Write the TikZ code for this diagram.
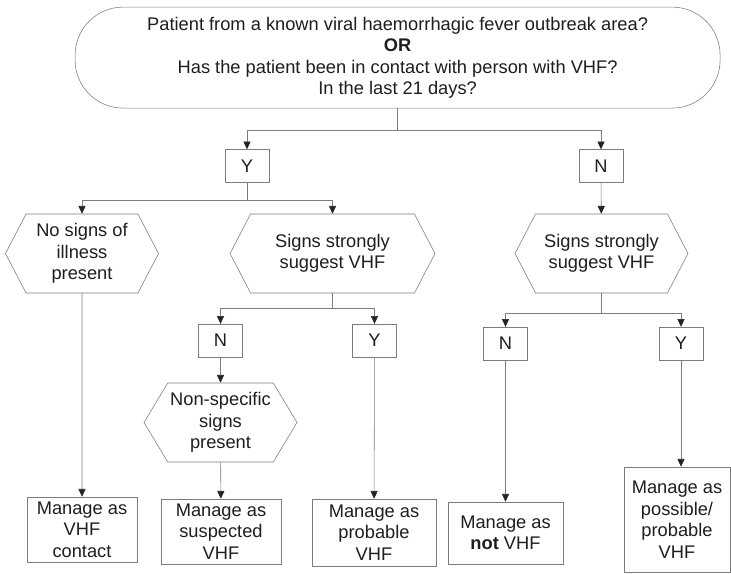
\documentclass[tikz,border=0pt]{standalone}
\usepackage{fontspec}
\setmainfont{Liberation Sans}
\usetikzlibrary{shapes,shapes.symbols,arrows.meta,positioning,calc}
\definecolor{linecolor}{RGB}{125,125,125}
\definecolor{tipcolor}{RGB}{35,35,35}
\definecolor{textcolor}{RGB}{30,30,30}
\newcommand{\flowfont}{\fontsize{13}{15.3}\selectfont}

\begin{document}
\begin{tikzpicture}[
        box/.style={rectangle, draw=linecolor, align=center, font=\flowfont, text=textcolor, inner sep=1pt},
        answer/.style={rectangle, draw=linecolor, minimum width=1.1cm, minimum height=0.82cm, font=\flowfont, text=textcolor},
        question/.style={signal, signal to=west and east, signal pointer angle=125, draw=linecolor, align=center, font=\flowfont, text=textcolor, minimum height=1.975cm, inner sep=1pt},
        arrow/.style={-{Triangle[length=5.5pt,width=5pt,color=tipcolor]}, draw=linecolor, thin},
        line/.style={draw=linecolor, thin}
    ]
        \useasboundingbox (0,0) rectangle (18.275,14.35);
        \fill[white] (0,0) rectangle (18.275,14.35);

        % Start question
        \node[box, rounded corners=1.2cm, minimum width=16.125cm, minimum height=2.525cm] (exposure) at (9.94,12.91) {
            Patient from a known viral haemorrhagic fever outbreak area? \\
            \textbf{OR} \\
            Has the patient been in contact with person with VHF? \\
            In the last 21 days?
        };

        % First answers
        \node[answer] (y1) at (6.175,10.2) {Y};
        \node[answer] (n1) at (15.025,10.2) {N};
        \coordinate (j1) at ($(exposure.south)+(0,-0.55)$);
        \draw[line] (exposure.south) -- (j1);
        \draw[arrow] (j1) -| (y1);
        \draw[arrow] (j1) -| (n1);

        % Signs
        \node[question, minimum width=3.825cm] (nosigns) at (2.05,8.0125) {No signs of \\ illness \\ present};
        \node[question, minimum width=5.125cm] (strong1) at (8.3125,8.0125) {Signs strongly \\ suggest VHF};
        \node[question, minimum width=4.325cm] (strong2) at (15.0375,8.0125) {Signs strongly \\ suggest VHF};
        \coordinate (j2) at ($(y1.south)+(0,-0.44)$);
        \draw[line] (y1.south) -- (j2);
        \draw[arrow] (j2) -| (nosigns);
        \draw[arrow] (j2) -| (strong1);
        \draw[arrow] (n1) -- (strong2);

        % Second answers
        \node[answer] (n2) at (5.5125,5.8375) {N};
        \node[answer] (y2) at (9.3625,5.8375) {Y};
        \node[answer] (n3) at (12.6375,5.7625) {N};
        \node[answer] (y3) at (17.025,5.7625) {Y};
        \coordinate (j3) at ($(strong1.south)+(0,-0.375)$);
        \coordinate (j4) at ($(strong2.south)+(0,-0.5)$);
        \draw[line] (strong1.south) -- (j3);
        \draw[arrow] (j3) -| (n2);
        \draw[arrow] (j3) -| (y2);
        \draw[line] (strong2.south) -- (j4);
        \draw[arrow] (j4) -| (n3);
        \draw[arrow] (j4) -| (y3);

        \node[question, minimum width=3.825cm, signal pointer angle=118] (nonspec) at (5.5125,3.7875) {Non-specific \\ signs \\ present};
        \draw[arrow] (n2) -- (nonspec);

        % Outcomes
        \node[box, minimum width=2.75cm, minimum height=1.625cm] (contact) at (2.05,1.1125) {Manage as \\ VHF \\ contact};
        \node[box, minimum width=3cm, minimum height=1.625cm] (suspected) at (5.525,1.0625) {Manage as \\ suspected \\ VHF};
        \node[box, minimum width=3.1cm, minimum height=1.675cm] (probable) at (9.35,1.0375) {Manage as \\ probable \\ VHF};
        \node[box, minimum width=2.875cm, minimum height=1.55cm] (notvhf) at (12.6375,1.025) {Manage as \\ \textbf{not} VHF};
        \node[box, minimum width=2.65cm, minimum height=2.625cm] (possible) at (16.925,1.3625) {Manage as \\ possible/ \\ probable \\ VHF};
        \draw[arrow] (nosigns) -- (contact);
        \draw[arrow] (nonspec) -- (suspected);
        \draw[arrow] (y2) -- (probable);
        \draw[arrow] (n3) -- (notvhf);
        \draw[arrow] (y3) -- (y3 |- possible.north);

    \end{tikzpicture}
\end{document}
